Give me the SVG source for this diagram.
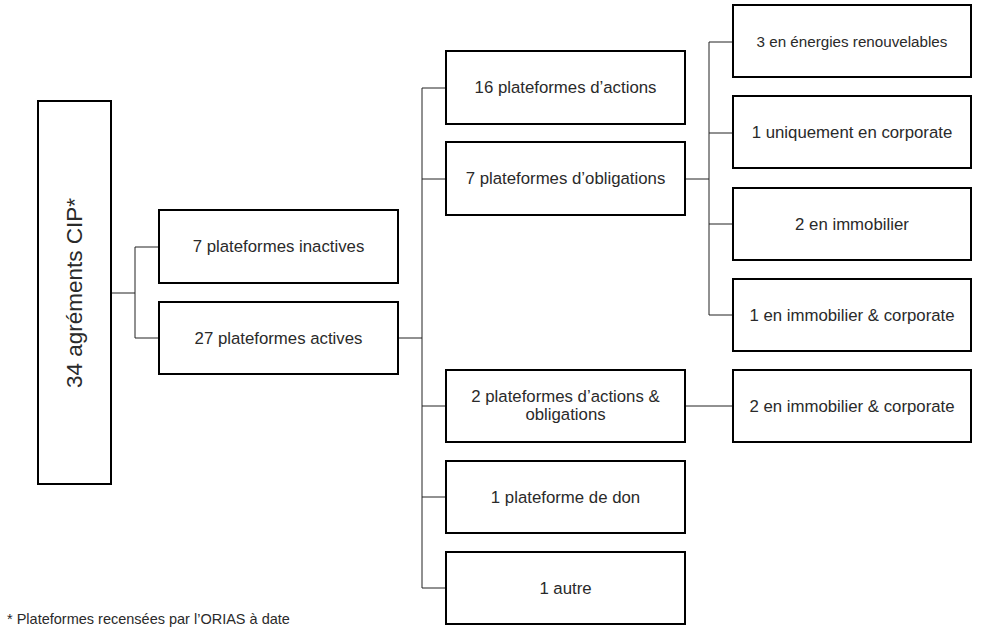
<svg xmlns="http://www.w3.org/2000/svg" width="987" height="635" viewBox="0 0 987 635">
<style>
.box{fill:#fff;stroke:#000;stroke-width:2}
.t{font-family:"Liberation Sans",Arial,sans-serif;font-size:16.8px;fill:#2a2a2a;text-anchor:middle}
.c{fill:none;stroke:#222;stroke-width:1}
</style>
<rect width="987" height="635" fill="#fff"/>
<g id="connectors">
<path class="c" d="M111,293H135M135,247V338M135,247H159M135,338H159"/>
<path class="c" d="M398,338H422M422,88V588M422,88H446M422,179H446M422,406H446M422,497H446M422,588H446"/>
<path class="c" d="M685,179H709M709,42V315M709,42H733M709,133H733M709,224H733M709,315H733"/>
<path class="c" d="M685,406H733"/>
</g>
<g id="root"><rect class="box" x="38" y="101" width="73" height="383"/>
<text class="t" style="font-size:22.5px" transform="translate(82,293) rotate(-90)">34 agréments CIP*</text></g>
<g id="inactives"><rect class="box" x="159" y="210" width="239" height="73"/><text class="t" x="278.5" y="252">7 plateformes inactives</text></g>
<g id="actives"><rect class="box" x="159" y="302" width="239" height="72"/><text class="t" x="278.5" y="344">27 plateformes actives</text></g>
<g id="actions"><rect class="box" x="446" y="51" width="239" height="73"/><text class="t" x="565.5" y="93">16 plateformes d’actions</text></g>
<g id="obligations"><rect class="box" x="446" y="142" width="239" height="73"/><text class="t" x="565.5" y="184">7 plateformes d’obligations</text></g>
<g id="mixtes"><rect class="box" x="446" y="370" width="239" height="72"/><text class="t" x="565.5" y="402">2 plateformes d’actions &amp;</text><text class="t" x="565.5" y="420">obligations</text></g>
<g id="don"><rect class="box" x="446" y="461" width="239" height="72"/><text class="t" x="565.5" y="503">1 plateforme de don</text></g>
<g id="autre"><rect class="box" x="446" y="552" width="239" height="72"/><text class="t" x="565.5" y="594">1 autre</text></g>
<g id="energies"><rect class="box" x="733" y="5" width="238" height="72"/><text class="t" style="font-size:15.2px" x="852" y="47">3 en énergies renouvelables</text></g>
<g id="corporate"><rect class="box" x="733" y="96" width="238" height="72"/><text class="t" x="852" y="138">1 uniquement en corporate</text></g>
<g id="immobilier"><rect class="box" x="733" y="188" width="238" height="72"/><text class="t" x="852" y="230">2 en immobilier</text></g>
<g id="immocorp1"><rect class="box" x="733" y="279" width="238" height="72"/><text class="t" x="852" y="321">1 en immobilier &amp; corporate</text></g>
<g id="immocorp2"><rect class="box" x="733" y="370" width="238" height="72"/><text class="t" x="852" y="412">2 en immobilier &amp; corporate</text></g>
<text x="7" y="624" style="font-family:'Liberation Sans',Arial,sans-serif;font-size:14.5px;fill:#2a2a2a">* Plateformes recensées par l’ORIAS à date</text>
</svg>
